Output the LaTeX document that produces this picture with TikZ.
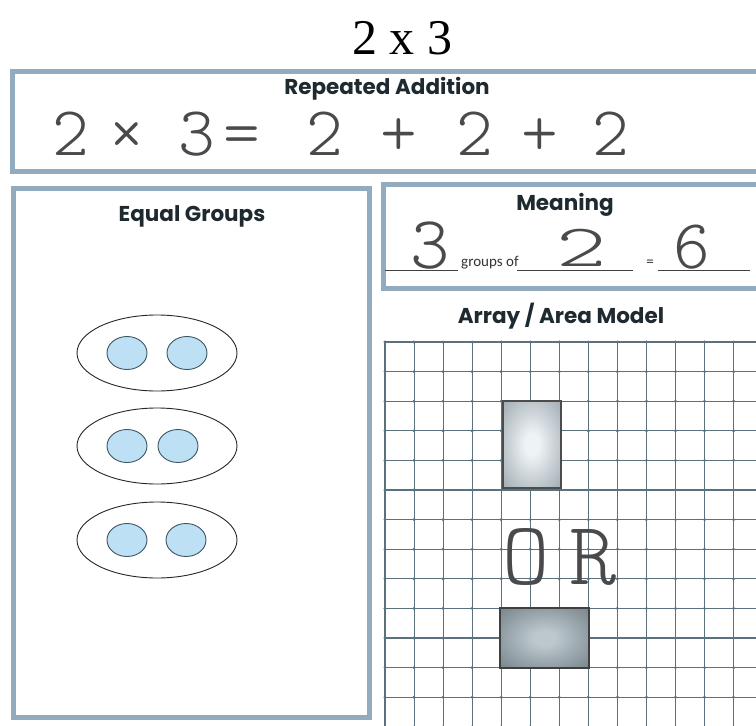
\documentclass[tikz,border=0pt]{standalone}
\usepackage{fontspec}
\newfontfamily\hdfont{Poppins}
\newfontfamily\carlfont{Carlito}
\newfontfamily\timfont{Liberation Serif}
\newfontfamily\hwfont{lmmonolt10-regular.otf}
\definecolor{boxc}{HTML}{93ABBE}
\definecolor{hdc}{HTML}{1E2A30}
\definecolor{handc}{HTML}{4A4A4A}
\definecolor{gridc}{HTML}{5A7280}
\definecolor{dotline}{HTML}{3C5560}
\definecolor{dotfill}{HTML}{BDE0F5}
\definecolor{gAin}{HTML}{EEF3F6}
\definecolor{gAout}{HTML}{7A8891}
\definecolor{gBin}{HTML}{BCC8CE}
\definecolor{gBout}{HTML}{56636A}
\pgfdeclareradialshading{glowA}{\pgfpoint{0bp}{0bp}}{color(0bp)=(gAin); color(6bp)=(gAin); color(50bp)=(gAout)}
\pgfdeclareradialshading{glowB}{\pgfpoint{0bp}{0bp}}{color(0bp)=(gBin); color(6bp)=(gBin); color(50bp)=(gBout)}
\begin{document}
\begin{tikzpicture}[x=1pt,y=-1pt,
  panel/.style={draw=boxc, line width=5pt},
  hdr/.style={font=\hdfont\bfseries\fontsize{21.5}{24}\selectfont, text=hdc, inner sep=0pt},
  hand/.style={text=handc, inner sep=0pt},
  gridl/.style={draw=gridc, line width=1.1pt},
  counter/.style={draw=dotline, fill=dotfill, line width=0.9pt},
  grouping/.style={draw=black!85, line width=0.9pt},
  uline/.style={draw=black!75, line width=0.9pt}]
\clip (0,0) rectangle (756,726);
\fill[white] (0,0) rectangle (756,726);

% title
\node[font=\timfont\fontsize{50}{56}\selectfont, anchor=base, inner sep=0pt] (title) at (402,54) {2 x 3};

% panels
\draw[panel] (12,71) rectangle (790,171);
\draw[panel] (13,188) rectangle (369,717);
\draw[panel] (383,184) rectangle (790,288);

% repeated addition
\node[hdr] (rahead) at (387,89) {Repeated Addition};
\node[hand, font=\hwfont\fontsize{70}{74}\selectfont, anchor=base west, text height=44pt, text depth=0pt] (raeq) at (52,155)
  {2\kern20pt ×\kern33pt 3\kern8pt =\kern46pt 2\kern38pt +\kern39pt 2\kern28pt +\kern34pt 2};

% equal groups
\node[hdr] (eghead) at (192,216) {Equal Groups};
\foreach \cy/\bx in {353/187, 446/178, 540/186}{
  \draw[grouping] (157,\cy) ellipse [x radius=80, y radius=38];
  \draw[counter] (127,\cy) ellipse [x radius=20, y radius=16.5];
  \draw[counter] (\bx,\cy) ellipse [x radius=20, y radius=16.5];
}

% meaning
\node[hdr] (mhead) at (565,205) {Meaning};
\draw[uline] (385,270) -- (458,270);
\draw[uline] (517,270) -- (633,270);
\draw[uline] (658,270) -- (750,270);
\node[hand, font=\hwfont\fontsize{75}{80}\selectfont, anchor=base, text height=46pt, text depth=0pt] (mthree) at (430,268) {3};
\node[font=\carlfont\fontsize{15}{18}\selectfont, text=black!80, anchor=base west, inner sep=0pt] (mgroups) at (461,266) {groups of};
\node[hand, font=\hwfont\fontsize{60}{64}\selectfont, anchor=base, xscale=1.6] (mtwo) at (582,266) {2};
\node[font=\carlfont\fontsize{15}{18}\selectfont, text=black!80, anchor=base, inner sep=0pt] (meq) at (650,266) {=};
\node[hand, font=\hwfont\fontsize{70}{74}\selectfont, anchor=base, text height=43pt, text depth=0pt] (msix) at (692,268) {6};

% array / area model
\node[hdr] (ahead) at (561,316) {Array / Area Model};
\foreach \i in {0,...,13}{
  \draw[gridl] ({385+29.05*\i},342) -- ({385+29.05*\i},730);
}
\foreach \j in {0,...,13}{
  \draw[gridl] (385,{342+29.6*\j}) -- (760,{342+29.6*\j});
}
\foreach \i in {0,...,13}{
  \foreach \j in {0,...,13}{
    \fill[gridc] ({385+29.05*\i},{342+29.6*\j}) circle (1.6pt);
  }
}
\shade[shading=glowA] (503,401) rectangle (561,488);
\draw[draw=black!70, line width=1.2pt] (503,401) rectangle (561,488);
\shade[shading=glowB] (500,608) rectangle (589,668);
\draw[draw=black!75, line width=1.2pt] (500,608) rectangle (589,668);
\node[hand, font=\hwfont\fontsize{90}{96}\selectfont, anchor=base] (orword) at (560,584) {O\kern20pt R};
\end{tikzpicture}
\end{document}
